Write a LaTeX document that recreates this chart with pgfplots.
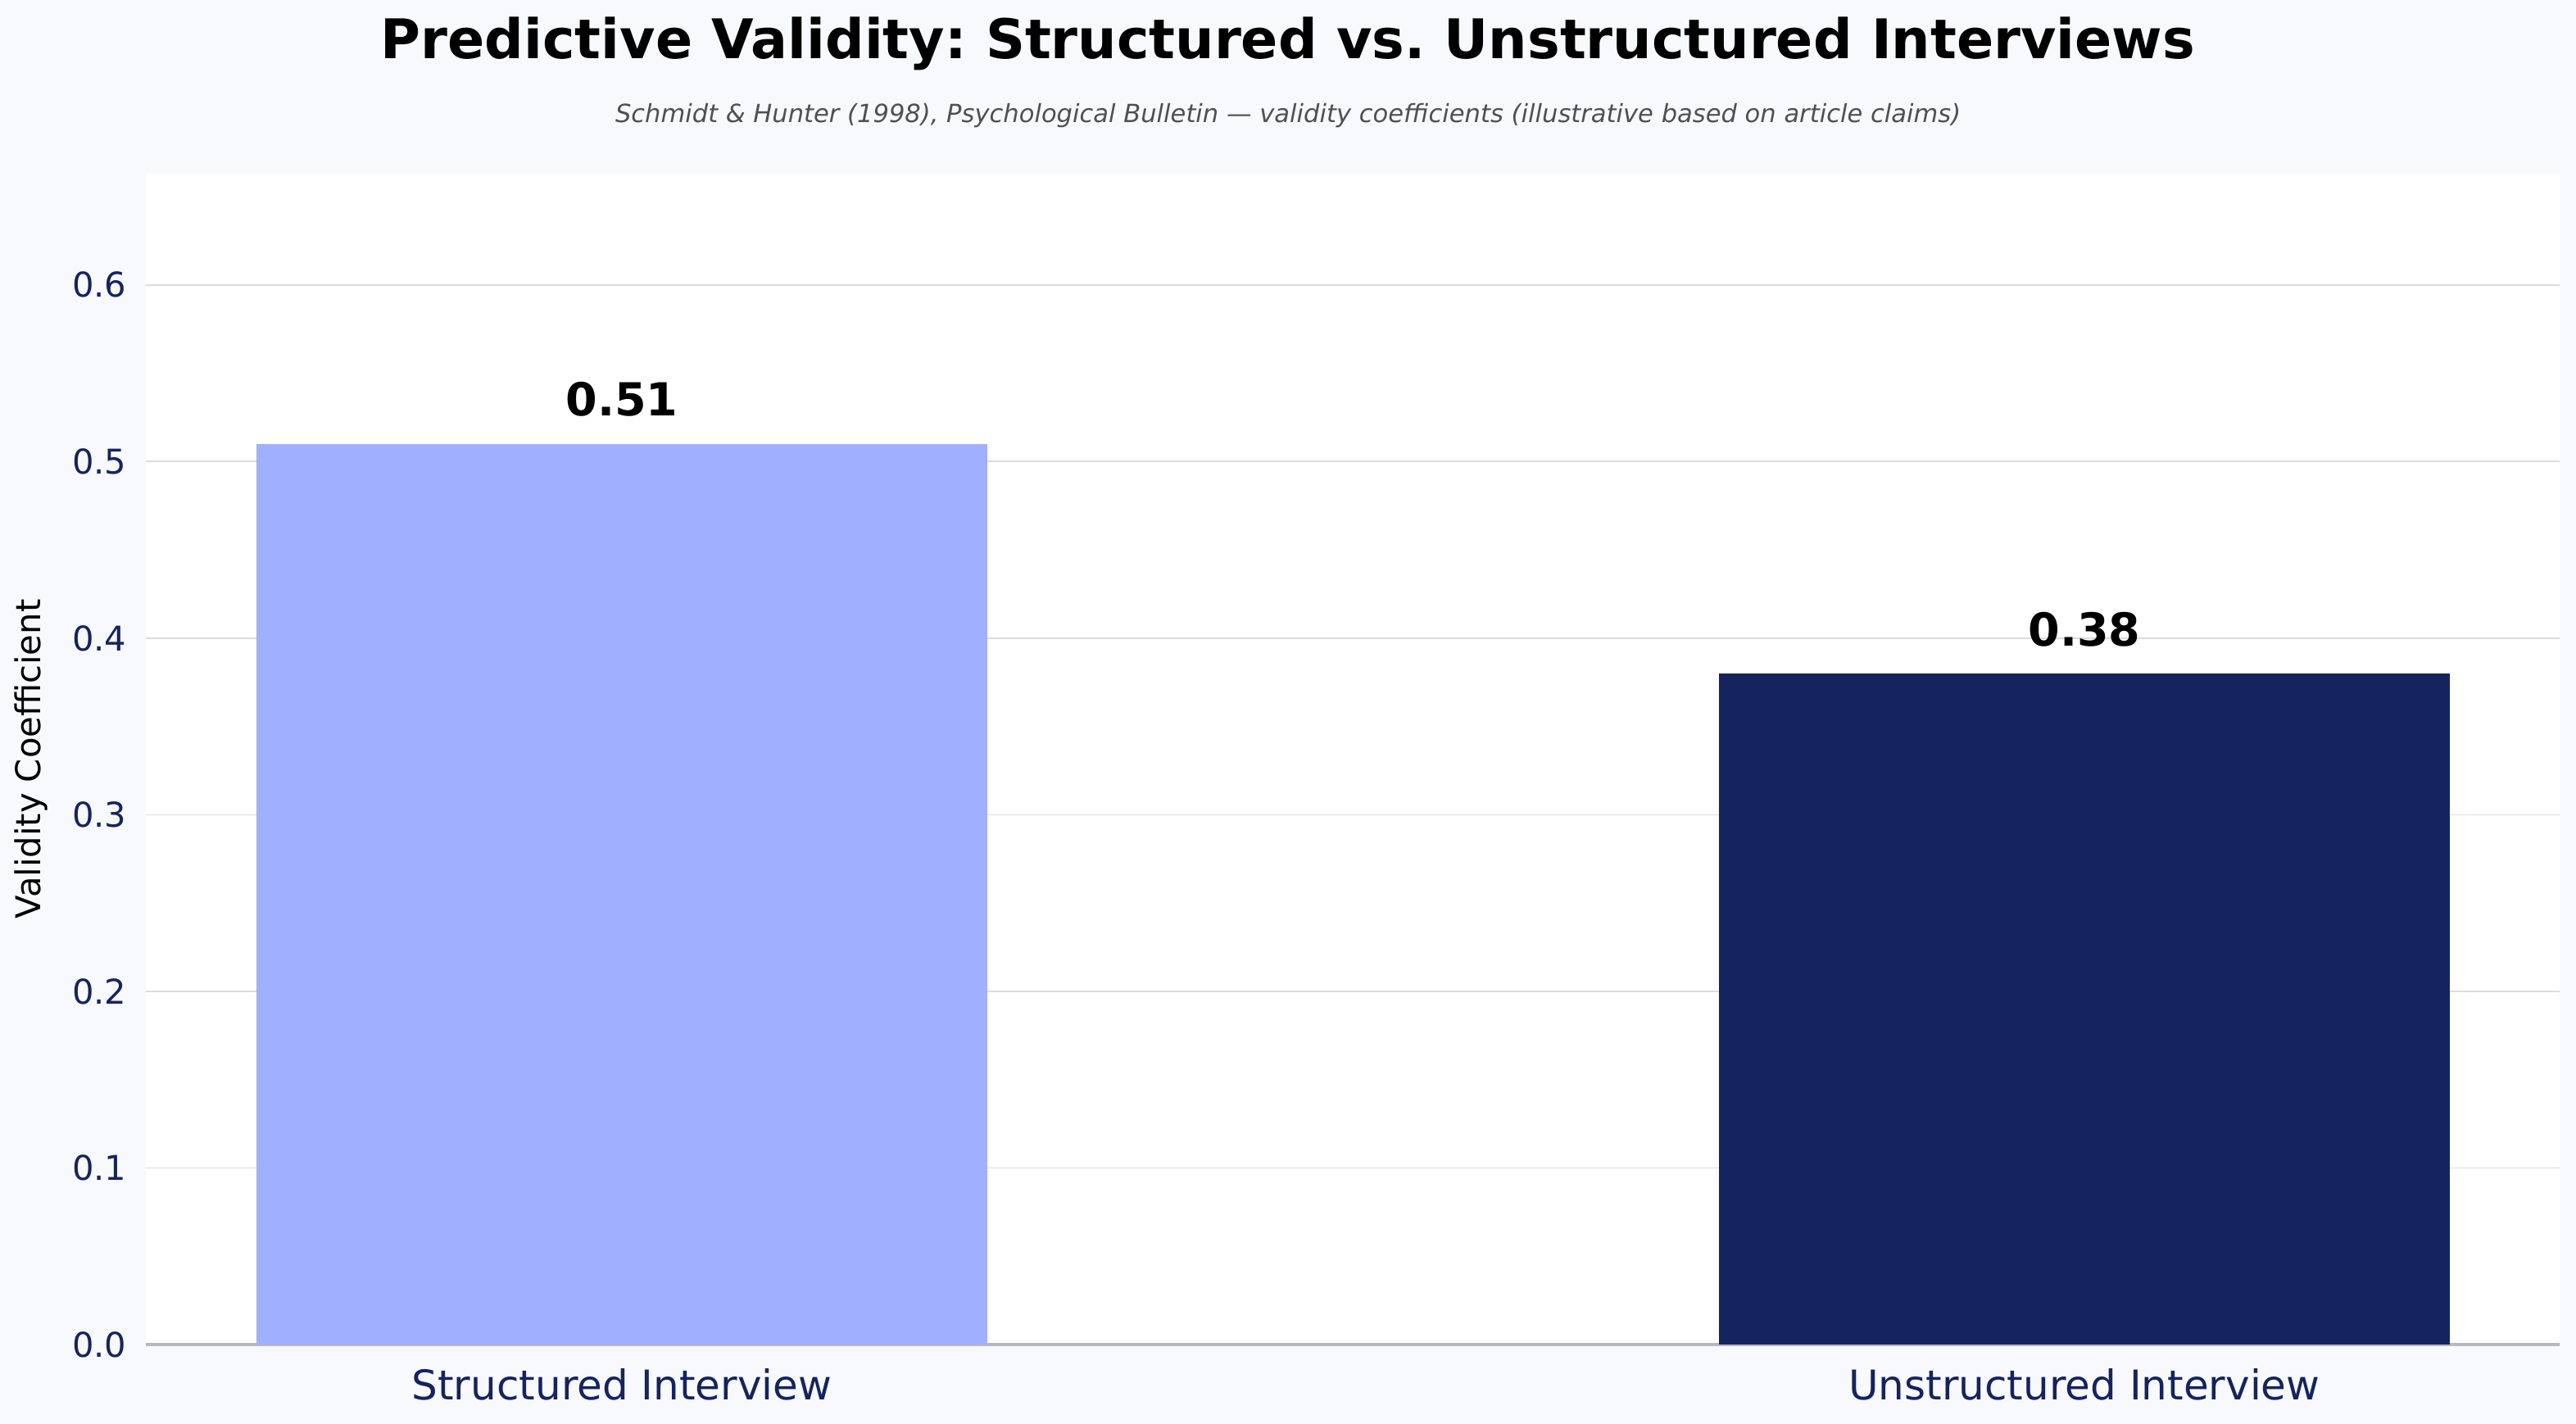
\documentclass[border=0pt]{standalone}
\usepackage{pgfplots}
\pgfplotsset{compat=1.18}
\usepackage{fontspec}
\setmainfont{DejaVu Sans}
\frenchspacing
\definecolor{figbg}{HTML}{F7F9FC}
\definecolor{lightbar}{HTML}{A0B0FE}
\definecolor{darkbar}{HTML}{15245E}
\definecolor{navy}{HTML}{15245E}
\definecolor{gridc}{HTML}{DCDCDC}
\definecolor{spine}{HTML}{B8B8C0}
\definecolor{subgray}{HTML}{505050}
\begin{document}
\begin{tikzpicture}
\fill[figbg] (0,0) rectangle (1131.84pt,625.68pt);
\node[anchor=base, font=\fontsize{24}{28}\selectfont\bfseries] at (565.92pt,599.76pt) {Predictive Validity: Structured vs. Unstructured Interviews};
\node[anchor=base, text=subgray, font=\fontsize{11}{13}\selectfont\itshape] at (565.92pt,571.68pt) {Schmidt \& Hunter (1998), Psychological Bulletin — validity coefficients (illustrative based on article claims)};
\begin{axis}[
  at={(64.08pt,34.92pt)}, anchor=south west,
  scale only axis, width=1060.56pt, height=514.44pt,
  axis background/.style={fill=white},
  ybar, bar width=0.5, /pgf/bar shift=0pt,
  xmin=-0.3255, xmax=1.325, ymin=0, ymax=0.663,
  xtick={0,1}, xticklabels={Structured Interview, Unstructured Interview},
  ytick={0,0.1,0.2,0.3,0.4,0.5,0.6},
  yticklabel={\pgfmathprintnumber[fixed,precision=1,zerofill]{\tick}},
  /pgf/number format/assume math mode=true,
  major tick length=0pt,
  axis x line*=bottom, axis y line*=left,
  x axis line style={draw=spine, line width=1.2pt, -},
  y axis line style={draw=none},
  ymajorgrids, grid style={draw=gridc, line width=0.6pt},
  yticklabel style={font=\fontsize{15}{18}\selectfont, text=navy, inner sep=0pt, anchor=east, xshift=-8.3pt},
  xticklabel style={font=\fontsize{18}{21}\selectfont, text=navy, inner sep=0pt, anchor=north, yshift=-10.5pt},
  ylabel={Validity Coefficient},
  ylabel style={font=\fontsize{15}{18}\selectfont, at={(axis description cs:-0.0475,0.5)}, anchor=center, rotate=0},
  nodes near coords={\pgfmathprintnumber[fixed,precision=2,zerofill]{\pgfplotspointmeta}},
  nodes near coords style={font=\fontsize{20}{24}\selectfont\bfseries, text=black, anchor=base, inner sep=0pt, yshift=12.2pt},
  clip=false,
]
\addplot[fill=lightbar, draw=none] coordinates {(0,0.51)};
\addplot[fill=darkbar, draw=none] coordinates {(1,0.38)};
\end{axis}
\end{tikzpicture}
\end{document}
